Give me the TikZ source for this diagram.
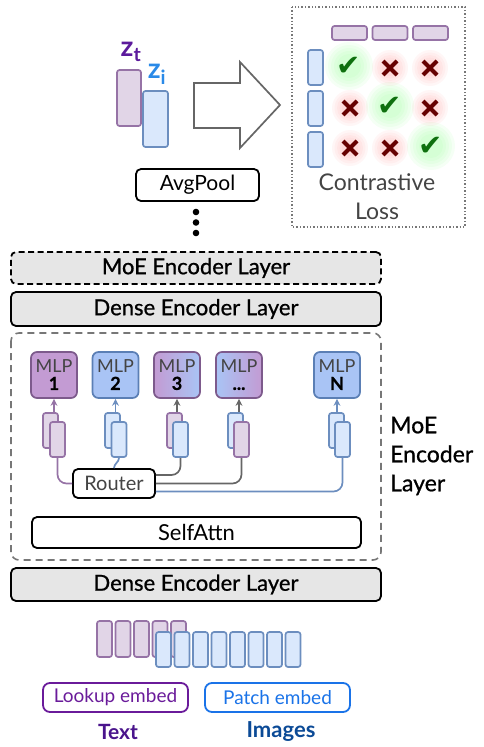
\documentclass[tikz,border=0pt]{standalone}
\usepackage{fontspec}
\setmainfont{Lato}
\newfontfamily\medfont[FakeBold=0.8]{Lato}
\newfontfamily\symfont{DejaVu Sans}
\usetikzlibrary{arrows.meta}
\definecolor{pFill}{HTML}{E1D5E7}
\definecolor{pLine}{HTML}{9673A6}
\definecolor{bFill}{HTML}{DAE8FC}
\definecolor{bLine}{HTML}{6C8EBF}
\definecolor{mlpP}{HTML}{C39BD3}
\definecolor{mlpPLine}{HTML}{7D5A8C}
\definecolor{mlpB}{HTML}{A9C4F5}
\definecolor{mlpBLine}{HTML}{5B7FB5}
\definecolor{ztcol}{HTML}{5C1A9C}
\definecolor{zicol}{HTML}{2A8AE8}
\definecolor{txtgray}{HTML}{444444}
\definecolor{layergray}{HTML}{E6E6E6}
\definecolor{dashgray}{HTML}{777777}
\definecolor{arrowgray}{HTML}{666666}
\definecolor{chk}{HTML}{0F700F}
\definecolor{crs}{HTML}{660000}
\definecolor{lookcol}{HTML}{6A1B9A}
\definecolor{patchcol}{HTML}{1A73E8}
\definecolor{textlbl}{HTML}{4A148C}
\definecolor{imglbl}{HTML}{0B4A96}
\definecolor{glowgreen}{HTML}{80FF80}
\definecolor{glowred}{HTML}{FF8080}
\begin{document}
\begin{tikzpicture}[x=1pt,y=-1pt,
  tok/.style={draw, line width=1.7pt, rounded corners=2.5pt, minimum width=15pt, minimum height=35pt, inner sep=0pt},
  ptok/.style={tok, draw=pLine, fill=pFill},
  btok/.style={tok, draw=bLine, fill=bFill},
  box/.style={draw, line width=1.8pt, rounded corners=5pt, inner sep=0pt},
  layer/.style={box, fill=layergray, minimum width=370pt, font=\medfont\fontsize{22}{24}\selectfont},
  mlp/.style={draw, line width=1.7pt, rounded corners=6pt, minimum width=46pt, minimum height=46pt, inner sep=0pt, align=center, font=\fontsize{18}{18}\selectfont},
  mlpP/.style={mlp, fill=mlpP, draw=mlpPLine},
  mlpB/.style={mlp, fill=mlpB, draw=mlpBLine},
  up/.style={-{Stealth[length=7pt,width=7pt]}, line width=1.7pt},
  route/.style={line width=1.7pt, rounded corners=9pt},
  ck/.style={text=chk, font=\symfont\fontsize{29}{29}\selectfont, inner sep=0pt},
  crossmark/.pic={\draw[crs, line width=4.2pt] (-7,-7) -- (7,7) (-7,7) -- (7,-7);},
  glowG/.pic={\foreach \r in {24,21,18,15,12} {\fill[glowgreen, opacity=0.08] (0,0) circle (\r pt);}},
  glowR/.pic={\foreach \r in {18,15.5,13,10.5,8} {\fill[glowred, opacity=0.07] (0,0) circle (\r pt);}},
]
\path[use as bounding box] (0,0) rectangle (483,747);

% z_t, z_i
\node[ptok, minimum width=24pt, minimum height=56pt] (zt) at (129,98) {};
\node[btok, minimum width=25pt, minimum height=56pt] (zi) at (155.5,119) {};
\node[text=ztcol, inner sep=0pt] (ztl) at (131,52) {\fontsize{28}{28}\selectfont$\mathbf{z}_{\mathbf{t}}$};
\node[text=zicol, inner sep=0pt] (zil) at (157,74) {\fontsize{28}{28}\selectfont$\mathbf{z}_{\mathbf{i}}$};

% big arrow
\draw[arrowgray, line width=1.7pt, line join=miter, fill=white]
  (194,83) -- (240,83) -- (240,62) -- (280,105) -- (240,148) -- (240,128) -- (194,128) -- cycle;

% AvgPool
\node[box, minimum width=123pt, minimum height=32pt, font=\fontsize{21}{22}\selectfont] (avg) at (197.5,185) {AvgPool};
\fill (196,212) circle (3.3pt) (196,222.5) circle (3.3pt) (196,233) circle (3.3pt);

% contrastive box
\draw[dashgray, line width=1.4pt, dotted] (292,7) rectangle (465,227);
\pic at (349,66) {glowG};
\pic at (390,106) {glowG};
\pic at (431,146) {glowG};
\pic at (390,68) {glowR};
\pic at (430,68) {glowR};
\pic at (350,108) {glowR};
\pic at (430,108) {glowR};
\pic at (350,148) {glowR};
\pic at (390,148) {glowR};
\node[ptok, minimum width=35pt, minimum height=14pt] (c1) at (349.5,33) {};
\node[ptok, minimum width=35pt, minimum height=14pt] (c2) at (390,33) {};
\node[ptok, minimum width=35pt, minimum height=14pt] (c3) at (430.5,33) {};
\node[btok, minimum width=15pt, minimum height=35pt] (r1) at (315.5,67.5) {};
\node[btok, minimum width=15pt, minimum height=35pt] (r2) at (315.5,108.5) {};
\node[btok, minimum width=15pt, minimum height=35pt] (r3) at (315.5,149.5) {};
\node[ck] (k11) at (349,66) {✔};
\node[ck] (k22) at (390,106) {✔};
\node[ck] (k33) at (431,146) {✔};
\pic at (390,68) {crossmark};
\pic at (430,68) {crossmark};
\pic at (350,108) {crossmark};
\pic at (430,108) {crossmark};
\pic at (350,148) {crossmark};
\pic at (390,148) {crossmark};
\node[text=txtgray, align=center, font=\fontsize{23}{29}\selectfont, inner sep=0pt] (closs) at (377,197) {Contrastive\\Loss};

% layers
\node[layer, dashed, dash pattern=on 6pt off 3.5pt, minimum height=32pt] (moe1) at (196,268) {MoE Encoder Layer};
\node[layer, minimum height=34pt] (dense1) at (196,309) {Dense Encoder Layer};
\draw[dashgray, line width=1.6pt, dash pattern=on 7pt off 5pt, rounded corners=8pt] (11,333) rectangle (381,560);
\node[layer, minimum height=33pt] (dense2) at (196,584.5) {Dense Encoder Layer};
\node[anchor=west, align=left, inner sep=0pt, font=\medfont\fontsize{23}{29}\selectfont] (moelbl) at (390,456) {MoE\\Encoder\\Layer};

% MLPs
\node[mlpP] (m1) at (54,375) {\textcolor{txtgray}{MLP}\\[-1pt]{\medfont\bfseries 1}};
\node[mlpB] (m2) at (115.5,375) {\textcolor{txtgray}{MLP}\\[-1pt]{\medfont\bfseries 2}};
\node[mlp, draw=mlpPLine, left color=mlpP, right color=mlpB] (m3) at (177,375) {\textcolor{txtgray}{MLP}\\[-1pt]{\medfont\bfseries 3}};
\node[mlp, draw=mlpPLine, left color=mlpB, right color=mlpP] (m4) at (239,375) {\textcolor{txtgray}{MLP}\\[-1pt]{\medfont\bfseries ...}};
\node[mlpB] (m5) at (337,375) {\textcolor{txtgray}{MLP}\\[-1pt]{\medfont\bfseries N}};

% token pairs
\node[ptok] (p1b) at (50.5,430.5) {};
\node[ptok] (p1f) at (57.5,439.5) {};
\node[btok] (p2b) at (112.5,430.5) {};
\node[btok] (p2f) at (119,439.5) {};
\node[ptok] (p3b) at (174.5,430.5) {};
\node[btok] (p3f) at (180.5,439.5) {};
\node[btok] (p4b) at (235.5,430.5) {};
\node[ptok] (p4f) at (241.5,439.5) {};
\node[btok] (p5b) at (336.5,430.5) {};
\node[btok] (p5f) at (342.5,439.5) {};

\draw[up, pLine] (m1.south |- p1b.north) -- (m1.south);
\draw[up, bLine] (m2.south |- p2b.north) -- (m2.south);
\draw[up, arrowgray] (m3.south |- p3b.north) -- (m3.south);
\draw[up, arrowgray] (m4.south |- p4b.north) -- (m4.south);
\draw[up, bLine] (m5.south |- p5b.north) -- (m5.south);

% router
\node[box, minimum width=82pt, minimum height=29pt, fill=white, text=txtgray, font=\fontsize{20}{20}\selectfont] (router) at (114,483.5) {Router};
\draw[route, pLine] (p1f.south) |- (router.west);
\draw[line width=1.7pt, bLine] (p2f.south) to[out=270, in=90] (router.north);
\draw[route, arrowgray] ([yshift=8.5pt]router.east) -| (p3f.south);
\draw[route, arrowgray] (router.east) -| (p4f.south);
\draw[route, bLine] ([yshift=-8pt]router.east) -| (p5f.south);

% SelfAttn
\node[box, minimum width=329pt, minimum height=31pt, fill=white, font=\fontsize{22}{22}\selectfont] (sa) at (196.5,532.5) {SelfAttn};

% input tokens
\foreach \i in {0,...,4} {
  \node[ptok, minimum height=36pt] (t\i) at (104.5+18.5*\i,639) {};
}
\foreach \i in {0,...,7} {
  \node[btok, minimum height=35pt] (b\i) at (163.5+18.5*\i,649.5) {};
}

% embed boxes
\node[box, draw=lookcol, text=lookcol, rounded corners=7pt, minimum width=145pt, minimum height=29pt, font=\fontsize{19}{20}\selectfont] (look) at (115.5,697.5) {Lookup embed};
\node[box, draw=patchcol, text=patchcol, rounded corners=7pt, minimum width=145pt, minimum height=29pt, font=\fontsize{19}{20}\selectfont] (patch) at (277.5,697.5) {Patch embed};
\node[text=textlbl, font=\bfseries\fontsize{21}{22}\selectfont, inner sep=0pt] (tl) at (118,732) {Text};
\node[text=imglbl, font=\bfseries\fontsize{22}{22}\selectfont, inner sep=0pt] (il) at (281,732) {Images};
\end{tikzpicture}
\end{document}
